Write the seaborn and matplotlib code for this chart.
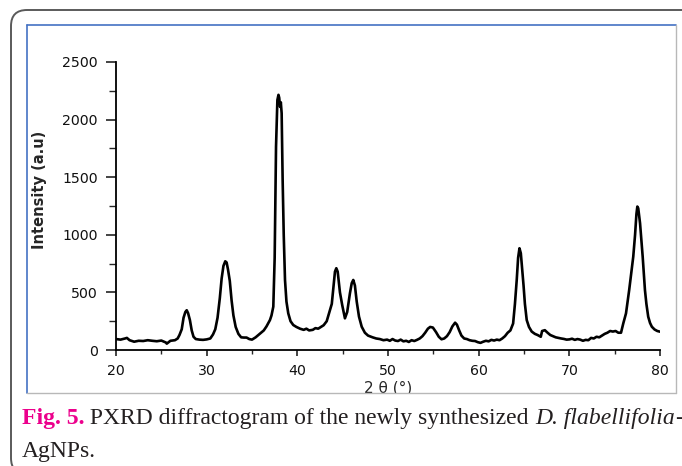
import matplotlib

matplotlib.use("Agg")
import matplotlib.pyplot as plt
import pandas as pd
import seaborn as sns
from matplotlib.lines import Line2D
from matplotlib.patches import FancyBboxPatch, Rectangle
from matplotlib.ticker import MultipleLocator
from matplotlib.transforms import IdentityTransform

# values (2 theta in degrees, intensity in a.u.)
two_theta = [
    20.0, 20.5, 21.0, 21.2, 21.5, 22.0, 22.5, 23.0, 23.5, 24.0, 24.5, 25.0, 25.5, 25.6,
    26.0, 26.5, 26.8, 27.0, 27.25, 27.45, 27.65, 27.8, 27.95, 28.15, 28.35, 28.55, 28.8,
    29.2, 29.6, 30.0, 30.4, 30.7, 30.95, 31.2, 31.45, 31.65, 31.85, 32.05, 32.2, 32.35,
    32.55, 32.75, 32.95, 33.2, 33.5, 33.8, 34.1, 34.4, 34.7, 35.0, 35.4, 35.7, 36.0,
    36.3, 36.6, 36.98, 37.15, 37.35, 37.5, 37.65, 37.8, 37.92, 38.0, 38.1, 38.18, 38.27,
    38.38, 38.5, 38.64, 38.8, 39.0, 39.25, 39.55, 39.9, 40.3, 40.7, 41.0, 41.3, 41.7,
    42.0, 42.3, 42.6, 42.9, 43.24, 43.5, 43.8, 44.0, 44.15, 44.3, 44.45, 44.7, 44.95,
    45.25, 45.5, 45.8, 46.0, 46.17, 46.35, 46.55, 46.8, 47.1, 47.45, 47.8, 48.3, 48.7,
    49.1, 49.5, 49.9, 50.2, 50.5, 50.8, 51.1, 51.4, 51.7, 52.0, 52.3, 52.6, 52.9, 53.2,
    53.5, 53.8, 54.1, 54.4, 54.65, 54.95, 55.3, 55.6, 55.9, 56.2, 56.5, 56.8, 57.1,
    57.4, 57.6, 57.85, 58.1, 58.4, 58.7, 59.0, 59.3, 59.6, 59.9, 60.2, 60.5, 60.8, 61.1,
    61.4, 61.7, 62.0, 62.3, 62.6, 62.9, 63.2, 63.5, 63.8, 64.0, 64.2, 64.35, 64.5, 64.65,
    64.8, 64.95, 65.1, 65.3, 65.55, 65.85, 66.2, 66.5, 66.85, 67.0, 67.3, 67.6, 67.9,
    68.2, 68.5, 68.8, 69.1, 69.4, 69.7, 70.0, 70.3, 70.6, 70.9, 71.2, 71.5, 71.8, 72.1,
    72.4, 72.7, 73.0, 73.3, 73.6, 73.9, 74.2, 74.5, 74.8, 75.1, 75.4, 75.7, 75.95, 76.25,
    76.6, 76.85, 77.05, 77.25, 77.4, 77.5, 77.6, 77.8, 78.09, 78.34, 78.5, 78.7, 78.9,
    79.1, 79.4, 79.7, 80.0,
]
intensity = [
    95, 90, 100, 105, 85, 72, 80, 78, 85, 80, 76, 82, 65, 55,
    80, 85, 100, 130, 180, 280, 330, 345, 320, 260, 170, 115, 95,
    90, 88, 92, 100, 135, 180, 280, 450, 620, 730, 770, 760, 700,
    600, 430, 300, 200, 140, 110, 108, 108, 95, 90, 110, 130, 150,
    170, 205, 260, 300, 376, 800, 1765, 2170, 2215, 2190, 2110, 2150, 2055,
    1476, 1000, 608, 420, 318, 250, 217, 200, 185, 175, 185, 170, 175,
    190, 185, 200, 215, 250, 320, 400, 560, 680, 710, 680, 500, 390,
    275, 330, 492, 580, 608, 560, 420, 290, 202, 150, 125, 110, 100,
    95, 85, 90, 80, 95, 82, 78, 90, 75, 80, 70, 85, 78, 88,
    100, 120, 150, 185, 200, 195, 155, 115, 93, 100, 120, 155, 205,
    237, 220, 170, 125, 100, 95, 85, 80, 78, 68, 62, 72, 80, 75,
    88, 82, 90, 85, 100, 120, 150, 170, 230, 400, 610, 800, 883, 840,
    700, 560, 400, 260, 200, 160, 140, 130, 115, 165, 172, 150, 130,
    120, 110, 105, 100, 96, 90, 92, 98, 88, 95, 90, 80, 88, 85,
    105, 100, 115, 110, 125, 140, 150, 165, 160, 165, 150, 150, 231, 318,
    520, 680, 810, 1000, 1180, 1245, 1230, 1100, 810, 520, 400, 289, 235,
    202, 178, 165, 159,
]

x_ticks = [20, 30, 40, 50, 60, 70, 80]
y_ticks = [0, 500, 1000, 1500, 2000, 2500]

caption_parts = [
    ("Fig. 5.", "bold", "normal", "#EC008C"),
    (" PXRD diffractogram of the newly synthesized ", "normal", "normal", "#231F20"),
    ("D. flabellifolia", "normal", "italic", "#231F20"),
    ("-", "normal", "normal", "#231F20"),
]
caption_line2 = "AgNPs."

W, H = 682, 466

sns.set_style("ticks")
plt.rcParams["font.family"] = ["DejaVu Sans"]

fig = plt.figure(figsize=(W / 100, H / 100), dpi=100)
fig.patch.set_facecolor("white")

ax = fig.add_axes([116 / W, 1 - 350 / H, (660 - 116) / W, (350 - 62) / H])
frame = pd.DataFrame({"two_theta": two_theta, "intensity": intensity})
sns.lineplot(data=frame, x="two_theta", y="intensity", ax=ax, color="black", linewidth=1.9, sort=False)

ax.set_xlim(20, 80)
ax.set_ylim(0, 2500)
ax.set_xticks(x_ticks)
ax.set_yticks(y_ticks)
ax.xaxis.set_minor_locator(MultipleLocator(5))
ax.yaxis.set_minor_locator(MultipleLocator(250))
sns.despine(ax=ax)
for side in ["left", "bottom"]:
    ax.spines[side].set_linewidth(1.3)
    ax.spines[side].set_color("black")
ax.tick_params(axis="y", which="major", length=7, width=1.1, pad=6, labelsize=10.2, colors="#111111")
ax.tick_params(axis="y", which="minor", length=5, width=1.0)
ax.tick_params(axis="x", which="major", length=4, width=1.1, pad=6, labelsize=10.2, colors="#111111")
ax.tick_params(axis="x", which="minor", length=3, width=1.0)
ax.set_facecolor("white")
ax.set_xlabel("2 θ (°)", fontsize=11, labelpad=2)
ax.set_ylabel("Intensity (a.u)", fontsize=10.5, fontweight="bold")
ax.yaxis.set_label_coords(-(116 - 47) / (660 - 116), (350 - 190) / (350 - 62))

ident = IdentityTransform()

# outer rounded panel frame (only top and left edges fall inside the picture)
fig.add_artist(FancyBboxPatch((11, -8), 720, H - 10 + 8, boxstyle="round,pad=0,rounding_size=16",
                              transform=ident, facecolor="none", edgecolor="#5a5a5a", linewidth=1.4))

# white strip under the figure box so the caption area stays clean
fig.add_artist(Rectangle((27, 0), 649, H - 393, transform=ident, facecolor="white",
                         edgecolor="none", zorder=2))

# figure box: blue left/top, grey right/bottom
fig.add_artist(Line2D([27, 27], [H - 393, H - 25], transform=ident, color="#4472C4", linewidth=1.2, zorder=3))
fig.add_artist(Line2D([27, 676], [H - 25, H - 25], transform=ident, color="#4472C4", linewidth=1.2, zorder=3))
fig.add_artist(Line2D([676, 676], [H - 393, H - 25], transform=ident, color="#b8b8b8", linewidth=1.0, zorder=3))
fig.add_artist(Line2D([27, 676], [H - 393, H - 393], transform=ident, color="#b8b8b8", linewidth=1.0, zorder=3))

# caption, placed piece by piece
fig.canvas.draw()
renderer = fig.canvas.get_renderer()
x_pos = 22
for text, weight, style, colour in caption_parts:
    t = fig.text(x_pos, H - 424, text, transform=ident, fontsize=17, fontweight=weight, fontstyle=style,
                 color=colour, family=["Liberation Serif"], va="baseline", ha="left", zorder=4)
    x_pos = t.get_window_extent(renderer).x1
fig.text(22, H - 457.5, caption_line2, transform=ident, fontsize=17, color="#231F20",
         family=["Liberation Serif"], va="baseline", ha="left", zorder=4)

fig.savefig("out.png", dpi=100)
